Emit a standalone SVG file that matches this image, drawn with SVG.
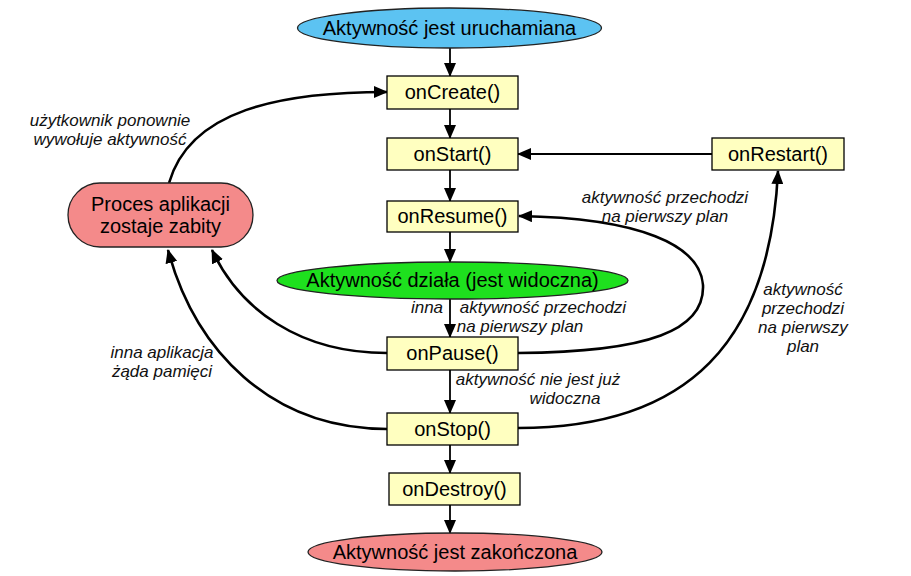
<svg xmlns="http://www.w3.org/2000/svg" width="911" height="576" viewBox="0 0 911 576">
<defs>
<marker id="ah" markerUnits="userSpaceOnUse" markerWidth="14" markerHeight="12" refX="13" refY="6" orient="auto">
<path d="M0,0 L14,6 L0,12 Z" fill="#000"/>
</marker>
<style>
.box{fill:#ffffc0;stroke:#000;stroke-width:1.3}
.t{font-family:"Liberation Sans",Arial,sans-serif;font-size:20px;fill:#000;text-anchor:middle}
.l{font-family:"Liberation Sans",Arial,sans-serif;font-size:17px;font-style:italic;fill:#111;text-anchor:middle}
.s{fill:none;stroke:#000;stroke-width:1.8;marker-end:url(#ah)}
.c{fill:none;stroke:#000;stroke-width:2.6;marker-end:url(#ah)}
</style>
</defs>
<rect width="911" height="576" fill="#fff"/>
<g id="connectors">
<path class="s" d="M450,48 V76"/>
<path class="s" d="M450,109 V138"/>
<path class="s" d="M450,170 V201"/>
<path class="s" d="M450,232 V262"/>
<path class="s" d="M450,299 V337"/>
<path class="s" d="M450,370 V413"/>
<path class="s" d="M450,445 V473"/>
<path class="s" d="M450,505 V533"/>
<path class="s" d="M712,154 H518"/>
<path class="c" d="M518,353 C650,352 705,330 703,285 C700,245 640,218 519,216"/>
<path class="c" d="M518,428 C690,428 770,340 778,171"/>
<path class="c" d="M387,353 C300,353 240,310 212,250"/>
<path class="c" d="M387,429 C270,429 195,350 168,250"/>
<path class="c" d="M169,183 C190,110 280,92 387,92"/>
</g>
<g id="start">
<ellipse cx="449.5" cy="28" rx="152" ry="20" fill="#5cc3f2" stroke="#222" stroke-width="1.3"/>
<text class="t" x="449.5" y="35">Aktywność jest uruchamiana</text>
</g>
<g id="onCreate"><rect class="box" x="387" y="76" width="131" height="33"/><text class="t" x="452.5" y="99">onCreate()</text></g>
<g id="onStart"><rect class="box" x="387" y="138" width="131" height="32"/><text class="t" x="452.5" y="161">onStart()</text></g>
<g id="onRestart"><rect class="box" x="712" y="138" width="132" height="32"/><text class="t" x="778" y="161">onRestart()</text></g>
<g id="onResume"><rect class="box" x="387" y="201" width="131" height="31"/><text class="t" x="452.5" y="223">onResume()</text></g>
<g id="running">
<ellipse cx="452.5" cy="280.5" rx="175.5" ry="18.5" fill="#1ee01e" stroke="#222" stroke-width="1.3"/>
<text class="t" x="452.5" y="287">Aktywność działa (jest widoczna)</text>
</g>
<g id="onPause"><rect class="box" x="387" y="337" width="131" height="33"/><text class="t" x="452.5" y="360">onPause()</text></g>
<g id="onStop"><rect class="box" x="387" y="413" width="131" height="32"/><text class="t" x="452.5" y="436">onStop()</text></g>
<g id="onDestroy"><rect class="box" x="389" y="473" width="131" height="32"/><text class="t" x="454.5" y="496">onDestroy()</text></g>
<g id="end">
<ellipse cx="455" cy="552" rx="147" ry="19" fill="#f48a8a" stroke="#222" stroke-width="1.3"/>
<text class="t" x="455" y="559">Aktywność jest zakończona</text>
</g>
<g id="killed">
<rect x="68" y="183" width="185" height="64" rx="32" ry="32" fill="#f48a8a" stroke="#222" stroke-width="1.3"/>
<text class="t" x="160.5" y="211">Proces aplikacji</text>
<text class="t" x="160.5" y="233">zostaje zabity</text>
</g>
<g id="labels">
<text class="l" x="110" y="126">użytkownik ponownie</text>
<text class="l" x="110" y="145">wywołuje aktywność</text>
<text class="l" x="665" y="203">aktywność przechodzi</text>
<text class="l" x="665" y="222">na pierwszy plan</text>
<text class="l" x="427" y="313">inna</text>
<text class="l" x="543" y="313">aktywność przechodzi</text>
<text class="l" x="520" y="332">na pierwszy plan</text>
<text class="l" x="162" y="358">inna aplikacja</text>
<text class="l" x="162" y="377">żąda pamięci</text>
<text class="l" x="538" y="385">aktywność nie jest już</text>
<text class="l" x="565" y="404">widoczna</text>
<text class="l" x="803" y="295">aktywność</text>
<text class="l" x="803" y="314">przechodzi</text>
<text class="l" x="803" y="333">na pierwszy</text>
<text class="l" x="803" y="352">plan</text>
</g>
</svg>
